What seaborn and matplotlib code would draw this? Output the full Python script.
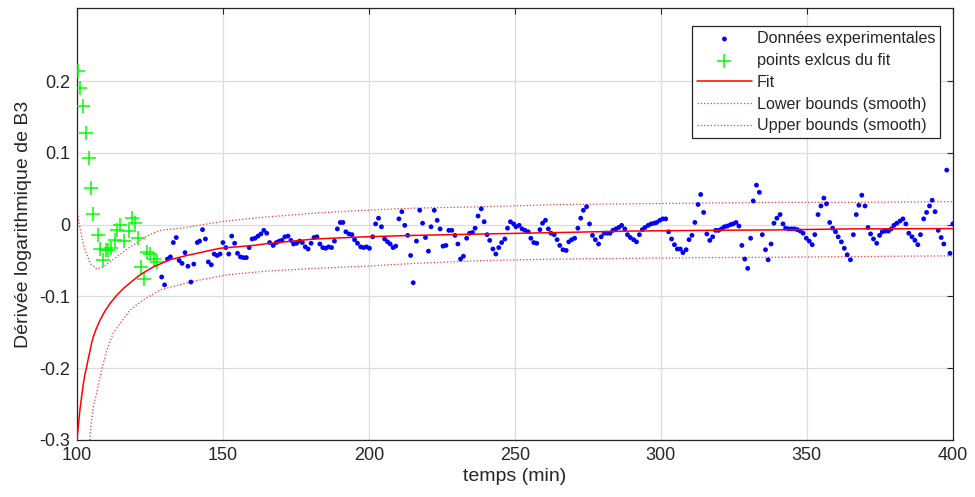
import numpy as np
import pandas as pd
import matplotlib
matplotlib.use("Agg")
import matplotlib.pyplot as plt
import seaborn as sns

# ---------------- data ----------------
t_data = [129, 130, 131, 132, 133, 134, 135, 136, 137, 138, 139, 140, 141.2, 142, 143, 144, 145, 146, 147, 148,
          149, 150, 151, 152, 153, 154, 155, 156, 157, 158, 159, 160, 161, 162, 163, 164, 165, 166,
          167.2, 168.3, 169.3, 170.2, 171.2, 172.3, 173.3, 174.2, 175.2, 176.3, 177.2, 178.2, 179.2, 180.2,
          181.2, 182.2, 183.2, 184.2, 185.2, 186.2, 187.2, 188.2, 189.2, 190.2, 191.1, 192.1, 193.2, 194.2,
          195.1, 196.1, 197.2, 198.2, 199.2, 200.2, 201.3, 202.3, 203.3, 204.3, 205.4, 206.4, 207.3, 208.3,
          209.2, 210.3, 211.3, 212.3, 213.3, 214.3, 215.2,
          216.3, 217.4, 218.4, 219.4, 220.4, 221.3, 222.4, 223.4, 224.4, 225.4, 226.4, 227.4, 228.4, 229.5,
          230.5, 231.4, 232.4, 233.5, 234.5, 235.5, 236.4, 237.4, 238.5, 239.5, 240.5, 241.4, 242.5, 243.5,
          244.5, 245.5, 246.6, 247.5, 248.5, 249.6, 250.4, 251.5, 252.5, 253.5, 254.6, 255.5, 256.5, 257.5,
          258.6, 259.5, 260.5, 261.5, 262.4, 263.5, 264.5, 265.4,
          266.5, 267.6, 268.5, 269.5, 270.5, 271.6, 272.6, 273.5, 274.6, 275.6, 276.6, 277.6, 278.7, 279.6,
          280.6, 281.6, 282.6, 283.6, 284.6, 285.6, 286.6, 287.7, 288.6, 289.6, 290.7, 291.7, 292.7, 293.7,
          294.6, 295.7, 296.7, 297.7, 298.6, 299.7, 300.7, 301.7, 302.7, 303.7, 304.7, 305.7, 306.7, 307.6,
          308.7, 309.7, 310.7, 311.7, 312.8, 313.7, 314.7,
          315.8, 316.8, 317.8, 318.8, 319.8, 320.8, 321.8, 322.8, 323.9, 324.8, 325.8, 326.8, 327.8, 328.8,
          329.8, 330.8, 331.7, 332.8, 333.8, 334.8, 335.9, 336.8, 337.8, 338.8, 339.8, 340.9, 341.9, 342.8,
          343.8, 344.9, 345.9, 346.8, 347.8, 348.8, 349.9, 350.9, 351.9, 352.8, 353.9, 354.9, 355.9, 356.8,
          357.9, 358.9, 359.9, 360.8, 361.9, 362.9, 363.9,
          365.0, 366.0, 367.0, 367.9, 368.9, 370.0, 371.0, 371.9, 372.9, 374.0, 375.0, 375.9, 376.9, 378.0,
          379.0, 379.9, 380.9, 382.0, 383.0, 384.0, 385.0, 386.1, 387.1, 388.1, 389.0, 390.1, 391.1, 392.1,
          393.0, 394.0, 395.1, 396.1, 397.0, 398.0, 399.1, 400.1]
d_data = [-0.073, -0.084, -0.048, -0.045, -0.025, -0.018, -0.050, -0.054, -0.039, -0.058, -0.080, -0.055, -0.025,
          -0.023, -0.007, -0.020, -0.052, -0.056, -0.041, -0.043, -0.041, -0.025, -0.032, -0.041, -0.016, -0.026,
          -0.040, -0.045, -0.046, -0.046, -0.032, -0.020, -0.019, -0.016, -0.013, -0.008, -0.012, -0.025,
          -0.029, -0.025, -0.023, -0.022, -0.017, -0.016, -0.022, -0.027, -0.026, -0.023, -0.025, -0.031, -0.034,
          -0.026, -0.018, -0.017, -0.027, -0.032, -0.033, -0.031, -0.032, -0.023, -0.006, 0.003, 0.003, -0.010,
          -0.013, -0.014, -0.021, -0.026, -0.031, -0.032, -0.031, -0.033, -0.017, 0.001, 0.009, -0.003, -0.020,
          -0.024, -0.027, -0.032, -0.030, 0.008, 0.018, -0.001, -0.015, -0.043, -0.081,
          -0.023, 0.020, 0.002, -0.018, -0.037, -0.003, 0.020, 0.006, -0.006, -0.030, -0.029, -0.008, -0.008,
          -0.015, -0.027, -0.048, -0.044, -0.019, -0.012, -0.011, -0.005, 0.012, 0.022, 0.004, -0.014, -0.022,
          -0.034, -0.041, -0.032, -0.025, -0.020, -0.005, 0.004, 0.001, -0.003, -0.001, -0.006, -0.008, -0.010,
          -0.019, -0.025, -0.026, -0.007, 0.002, 0.006, -0.006, -0.012, -0.014, -0.021, -0.029,
          -0.035, -0.036, -0.024, -0.021, -0.019, -0.005, 0.009, 0.020, 0.025, 0.001, -0.015, -0.021, -0.027,
          -0.017, -0.012, -0.012, -0.012, -0.008, -0.006, -0.004, -0.001, -0.006, -0.014, -0.018, -0.021, -0.024,
          -0.014, -0.007, -0.004, -0.001, 0.001, 0.002, 0.003, 0.006, 0.008, 0.008, -0.010, -0.020, -0.028,
          -0.034, -0.034, -0.039, -0.035, -0.021, -0.015, 0.003, 0.028, 0.042, 0.017,
          -0.013, -0.022, -0.017, -0.008, -0.008, -0.006, -0.003, -0.002, 0.000, 0.001, 0.003, -0.002, -0.029,
          -0.048, -0.061, -0.019, 0.033, 0.055, 0.045, -0.014, -0.035, -0.049, -0.027, 0.002, 0.009, 0.014,
          0.001, -0.005, -0.006, -0.006, -0.006, -0.007, -0.009, -0.012, -0.019, -0.023, -0.028, -0.014, 0.014,
          0.026, 0.037, 0.029, 0.003, -0.005, -0.010, -0.017, -0.024, -0.033, -0.042,
          -0.049, -0.014, 0.014, 0.027, 0.041, 0.026, -0.004, -0.013, -0.020, -0.026, -0.015, -0.010, -0.009,
          -0.009, -0.006, -0.001, 0.002, 0.005, 0.008, 0.001, -0.012, -0.017, -0.022, -0.028, -0.014, 0.008,
          0.017, 0.026, 0.034, 0.018, -0.008, -0.018, -0.027, 0.076, -0.040, 0.001]

t_excl = [100.2, 101.0, 102.0, 103.1, 104.0, 104.8, 105.6, 107.1, 107.9, 109.0, 109.8, 110.7, 111.6, 113.0,
          113.8, 114.8, 116.2, 117.8, 118.8, 119.7, 121.0, 121.8, 123.1, 123.9, 125.0, 126.3, 127.4]
d_excl = [0.214, 0.190, 0.166, 0.128, 0.093, 0.051, 0.015, -0.015, -0.034, -0.049, -0.035, -0.035, -0.033,
          -0.021, -0.007, 0.000, -0.023, -0.009, 0.009, 0.002, -0.018, -0.059, -0.076, -0.038, -0.041, -0.048,
          -0.052]

t_fit = [100.0, 100.5, 101.0, 101.6, 102.2, 102.7, 103.3, 103.9, 104.5, 105.0, 105.6, 106.7, 107.9, 109.5,
         111.3, 113.5, 115.9, 118.5, 121.6, 126.1, 131.8, 137.6, 143.3, 149.0, 154.7, 160.4, 166.1, 181.5,
         198.6, 215.8, 239.7, 265.4, 289.4, 315.0, 339.0, 364.7, 400.0]
y_fit = [-0.300, -0.278, -0.258, -0.239, -0.221, -0.209, -0.198, -0.186, -0.175, -0.165, -0.156, -0.144,
         -0.133, -0.121, -0.110, -0.099, -0.089, -0.080, -0.070, -0.059, -0.049, -0.043, -0.038, -0.033,
         -0.031, -0.029, -0.026, -0.020, -0.017, -0.015, -0.013, -0.011, -0.009, -0.008, -0.0074, -0.006,
         -0.0055]

t_low = [104.3, 104.5, 105.0, 105.6, 106.7, 108.4, 110.2, 112.4, 114.7, 118.2, 122.7, 128.4, 139.8, 151.3,
         164.4, 181.5, 198.6, 215.8, 239.7, 265.4, 289.4, 315.0, 339.0, 364.7, 400.0]
y_low = [-0.305, -0.291, -0.272, -0.254, -0.235, -0.203, -0.175, -0.151, -0.138, -0.119, -0.105, -0.091,
         -0.079, -0.070, -0.065, -0.061, -0.058, -0.054, -0.050, -0.048, -0.047, -0.046, -0.0455, -0.0446,
         -0.0435]

t_up = [100.0, 100.5, 101.6, 102.7, 104.5, 106.7, 109.0, 113.6, 118.2, 123.9, 128.4, 137.6, 149.0, 160.4,
        166.1, 181.5, 198.6, 215.8, 239.7, 265.4, 289.4, 315.0, 339.0, 364.7, 400.0]
y_up = [0.021, 0.007, -0.017, -0.035, -0.054, -0.062, -0.059, -0.045, -0.031, -0.016, -0.008, -0.004,
        0.004, 0.009, 0.011, 0.016, 0.020, 0.023, 0.025, 0.028, 0.029, 0.030, 0.031, 0.031, 0.032]

x_ticks = [100, 150, 200, 250, 300, 350, 400]
y_ticks = [-0.3, -0.2, -0.1, 0, 0.1, 0.2]
y_tick_labels = ["-0.3", "-0.2", "-0.1", "0", "0.1", "0.2"]

# ---------------- style ----------------
sns.set_theme(style="whitegrid")
plt.rcParams["font.family"] = ["Liberation Sans", "DejaVu Sans"]
dark = "#262626"
plt.rcParams.update({
    "axes.edgecolor": dark,
    "axes.linewidth": 0.9,
    "grid.color": "#dcdcdc",
    "grid.linewidth": 0.9,
    "xtick.color": dark,
    "ytick.color": dark,
    "text.color": dark,
    "axes.labelcolor": dark,
})

fig = plt.figure(figsize=(9.75, 4.97), dpi=100)
ax = fig.add_axes([0.079, 0.115, 0.898, 0.869])

df_data = pd.DataFrame({"t": t_data, "d": d_data})
df_excl = pd.DataFrame({"t": t_excl, "d": d_excl})
df_fit = pd.DataFrame({"t": t_fit, "y": y_fit})
df_low = pd.DataFrame({"t": t_low, "y": y_low})
df_up = pd.DataFrame({"t": t_up, "y": y_up})

sns.scatterplot(data=df_data, x="t", y="d", ax=ax, color="#0000ff", marker="o", s=12,
                edgecolor="none", label="Données experimentales", zorder=3)
sns.scatterplot(data=df_excl, x="t", y="d", ax=ax, color="#00ff00", marker="+", s=115,
                linewidth=1.1, label="points exlcus du fit", zorder=3)
sns.lineplot(data=df_fit, x="t", y="y", ax=ax, color="#ff0000", linewidth=1.1, sort=False,
             estimator=None, label="Fit", zorder=4)
sns.lineplot(data=df_low, x="t", y="y", ax=ax, color="#ff0000", linewidth=0.9, linestyle=":",
             sort=False, estimator=None, label="Lower bounds (smooth)", zorder=2, alpha=0.8)
sns.lineplot(data=df_up, x="t", y="y", ax=ax, color="#ff0000", linewidth=0.9, linestyle=":",
             sort=False, estimator=None, label="Upper bounds (smooth)", zorder=2, alpha=0.8)

ax.set_xlim(100, 400)
ax.set_ylim(-0.3, 0.302)
ax.set_xticks(x_ticks)
ax.set_yticks(y_ticks)
ax.set_yticklabels(y_tick_labels)
ax.tick_params(axis="both", which="both", direction="in", length=4.5, width=0.8,
               labelsize=13, top=True, right=True, pad=5)
for s in ax.spines.values():
    s.set_visible(True)
    s.set_color(dark)
ax.grid(True, color="#dcdcdc", linewidth=0.9)
ax.set_axisbelow(True)

ax.set_xlabel("temps (min)", fontsize=14, labelpad=3)
ax.set_ylabel("Dérivée logarithmique de B3", fontsize=14, labelpad=5)

leg = ax.legend(loc="upper right", bbox_to_anchor=(0.986, 0.958), borderaxespad=0,
                fontsize=11.6, frameon=True, fancybox=False, framealpha=1, edgecolor=dark,
                handlelength=3.4, handletextpad=0.3, borderpad=0.32, labelspacing=0.42)
leg.get_frame().set_linewidth(0.9)

fig.savefig("out.png", dpi=100, facecolor="white")
